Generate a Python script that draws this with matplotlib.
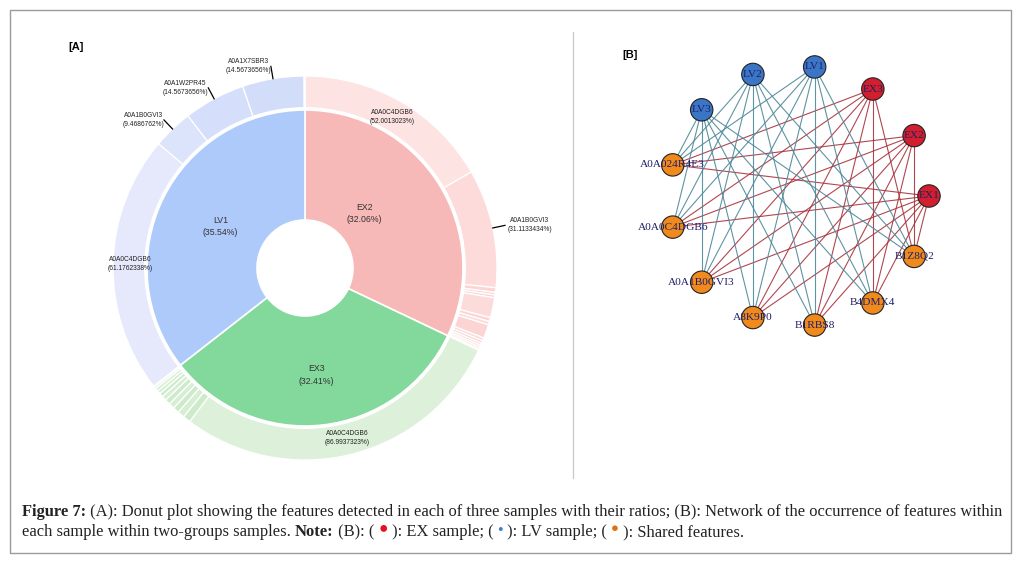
import matplotlib
matplotlib.use('Agg')
import matplotlib.pyplot as plt
import numpy as np
from matplotlib.patches import Rectangle
from matplotlib.lines import Line2D

W, H, DPI = 1022, 563, 100

# ---------------- data: donut (A) ----------------
inner_labels = ['EX2', 'EX3', 'LV1']
inner_values = [32.06, 32.41, 35.54]

ex2_features = ['A0A0C4DGB6', 'A0A1B0GVI3'] + [''] * 13
ex2_shares = [52.0013023, 31.1133434, 1.2, 0.7, 0.7, 5.3, 1.0, 0.9, 3.6,
              0.8, 0.7, 0.6, 0.5, 0.5, 0.3853543]
ex3_features = ['A0A0C4DGB6'] + [''] * 11
ex3_shares = [86.9937323, 2.0, 1.8, 1.6, 1.5, 1.4, 1.2, 1.0, 0.9, 0.7, 0.5,
              0.4062677]
lv1_features = ['A0A0C4DGB6', 'A0A1B0GVI3', 'A0A1W2PR45', 'A0A1X7SBR3', '']
lv1_shares = [61.1762338, 9.4686762, 14.5673656, 14.5673656, 0.2203588]

# ---------------- data: network (B) ----------------
ex_samples = ['EX1', 'EX2', 'EX3']
lv_samples = ['LV1', 'LV2', 'LV3']
shared_features = ['A0A024R4E3', 'A0A0C4DGB6', 'A0A1B0GVI3', 'A8K9P0',
                   'B1RBS8', 'B4DMX4', 'B1Z8Q2']

caption_line1 = [("Figure 7:", 'bold'),
                 (" (A): Donut plot showing the features detected in each of three samples with their ratios; (B): Network of the occurrence of features within", 'normal')]

# ---------------- styles ----------------
inner_colors = ['#f7b9b7', '#83d99b', '#aecafa']
ex2_colors = ['#fde3e2', '#fcdbda'] + ['#fbd4d3', '#fcdcdb'] * 6 + ['#fbd4d3']
ex3_colors = ['#ddf1da'] + ['#cdebca', '#d6efd3'] * 5 + ['#cdebca']
lv1_colors = ['#e6e9fb', '#dce4fb', '#d5dffb', '#d2ddfa', '#d0dafa']

fig = plt.figure(figsize=(W / DPI, H / DPI), dpi=DPI)
fig.patch.set_facecolor('white')

# outer frame and divider
fig.add_artist(Rectangle((10 / W, 1 - 553 / H), 1001 / W, 543 / H,
                         transform=fig.transFigure, fill=False,
                         edgecolor='#9a9a9a', lw=1.0))
fig.add_artist(Line2D([573 / W, 573 / W], [1 - 32 / H, 1 - 478 / H],
                      transform=fig.transFigure, color='#c8c8c8', lw=0.9))

# ---------------- panel A ----------------
R = 192.0
cx, cy = 305, 268
half = 205
axA = fig.add_axes([(cx - half) / W, (H - cy - half) / H, 2 * half / W, 2 * half / H])
r_mid = 158 / R
r_hole = 48 / R
wi, _ = axA.pie(inner_values, radius=r_mid, startangle=90, counterclock=False,
                colors=inner_colors,
                wedgeprops=dict(width=r_mid - r_hole, edgecolor='white', linewidth=1.2))

parent_tot = {l: v for l, v in zip(inner_labels, inner_values)}
outer_vals, outer_cols, outer_names, outer_shares = [], [], [], []
for grp, feats, shares, cols in [('EX2', ex2_features, ex2_shares, ex2_colors),
                                 ('EX3', ex3_features, ex3_shares, ex3_colors),
                                 ('LV1', lv1_features, lv1_shares, lv1_colors)]:
    for f, s, c in zip(feats, shares, cols):
        outer_vals.append(parent_tot[grp] * s / 100.0)
        outer_cols.append(c)
        outer_names.append(f)
        outer_shares.append(s)

wo, _ = axA.pie(outer_vals, radius=1.0, startangle=90, counterclock=False,
                colors=outer_cols,
                wedgeprops=dict(width=1.0 - 0.835, edgecolor='white', linewidth=0.9))
axA.set_xlim(-half / R, half / R)
axA.set_ylim(-half / R, half / R)
axA.set_aspect('equal')
axA.axis('off')

# inner labels
inner_r = [0.42, 0.56, 0.49]
inner_dang = [10, 0, 0]
for w, lab, v, rr, da in zip(wi, inner_labels, inner_values, inner_r, inner_dang):
    ang = np.deg2rad((w.theta1 + w.theta2) / 2 + da)
    axA.text(rr * np.cos(ang), rr * np.sin(ang), f"{lab}\n({v:.2f}%)",
             ha='center', va='center', fontsize=6.3, color='#333333',
             family='Liberation Sans', linespacing=1.5)

# outer labels
for w, name, s in zip(wo, outer_names, outer_shares):
    if not name:
        continue
    ang = np.deg2rad((w.theta1 + w.theta2) / 2)
    txt = f"{name}\n({s:.7f}%)"
    if s > 40:
        axA.text(0.91 * np.cos(ang), 0.91 * np.sin(ang), txt, ha='center',
                 va='center', fontsize=4.8, color='#222222',
                 family='Liberation Sans', linespacing=1.4)
    else:
        x1, y1 = 1.0 * np.cos(ang), 1.0 * np.sin(ang)
        x2, y2 = 1.065 * np.cos(ang), 1.065 * np.sin(ang)
        axA.plot([x1, x2], [y1, y2], color='black', lw=0.9, clip_on=False)
        ha = 'left' if np.cos(ang) > 0 else 'right'
        dx = 0.012 if ha == 'left' else -0.0
        axA.text(x2 + dx, y2, txt, ha=ha, va='center', fontsize=4.8,
                 color='#222222', family='Liberation Sans', linespacing=1.4,
                 multialignment='center', clip_on=False)

fig.text(68 / W, 1 - 47 / H, '[A]', fontsize=8, fontweight='bold',
         family='Liberation Sans', va='center', ha='left')

# ---------------- panel B ----------------
ncx, ncy, NR = 799, 196, 130.0
nh = 175
axB = fig.add_axes([(ncx - nh) / W, (H - ncy - nh) / H, 2 * nh / W, 2 * nh / H])
axB.set_xlim(-nh / NR, nh / NR)
axB.set_ylim(-nh / NR, nh / NR)
axB.set_aspect('equal')
axB.axis('off')

nodes = ex_samples + lv_samples + shared_features
n = len(nodes)
pos = {nm: (np.cos(2 * np.pi * i / n), np.sin(2 * np.pi * i / n))
       for i, nm in enumerate(nodes)}
for s in ex_samples + lv_samples:
    col = '#a8333d' if s.startswith('EX') else '#4d8899'
    for f in shared_features:
        (x1, y1), (x2, y2) = pos[s], pos[f]
        axB.plot([x1, x2], [y1, y2], color=col, lw=0.8, alpha=0.9, zorder=1)

node_col = {}
for s in ex_samples:
    node_col[s] = '#d21f2e'
for s in lv_samples:
    node_col[s] = '#3b76c6'
for f in shared_features:
    node_col[f] = '#f18a1d'
xs = [pos[k][0] for k in nodes]
ys = [pos[k][1] for k in nodes]
axB.scatter(xs, ys, s=260, c=[node_col[k] for k in nodes], edgecolors='#222222',
            linewidths=0.8, zorder=3)
for k in nodes:
    axB.text(pos[k][0], pos[k][1], k, ha='center', va='center', fontsize=8.2,
             color='#1f1f66', family='Liberation Serif', zorder=4)

fig.text(622 / W, 1 - 55 / H, '[B]', fontsize=8, fontweight='bold',
         family='Liberation Sans', va='center', ha='left')

# ---------------- caption ----------------
renderer = fig.canvas.get_renderer()
cap_family = ['Liberation Serif', 'DejaVu Sans']


def measure(pieces, fs):
    tot = 0
    for txt, wgt in pieces:
        t = fig.text(0, 0, txt, fontsize=fs, fontweight=wgt, family=cap_family)
        tot += t.get_window_extent(renderer).width
        t.remove()
    return tot


fs_cap = 10.0 * 978.0 / measure(caption_line1, 10.0)


def draw_line(pieces, x0, yb):
    x = x0
    for item in pieces:
        txt, wgt = item[0], item[1]
        color = item[2] if len(item) > 2 else '#222222'
        fsz = fs_cap * (item[3] if len(item) > 3 else 1.0)
        raise_px = item[4] if len(item) > 4 else 0
        t = fig.text(x / W, 1 - (yb - raise_px) / H, txt, fontsize=fsz,
                     fontweight=wgt, family=cap_family, color=color,
                     ha='left', va='baseline')
        x += t.get_window_extent(renderer).width


draw_line(caption_line1, 22, 516)
caption_line2 = [("each sample within two-groups samples. ", 'normal'),
                 ("Note:", 'bold'),
                 (" (B): ( ", 'normal'),
                 ("●", 'normal', '#e8101c', 0.95, 4),
                 (" ): EX sample; ( ", 'normal'),
                 ("•", 'normal', '#3b7fd0', 1.0, 1),
                 (" ): LV sample; ( ", 'normal'),
                 ("●", 'normal', '#e07010', 0.8, 4),
                 (" ): Shared features.", 'normal')]
draw_line(caption_line2, 22, 536)

fig.savefig('out.png', dpi=DPI, facecolor='white')
